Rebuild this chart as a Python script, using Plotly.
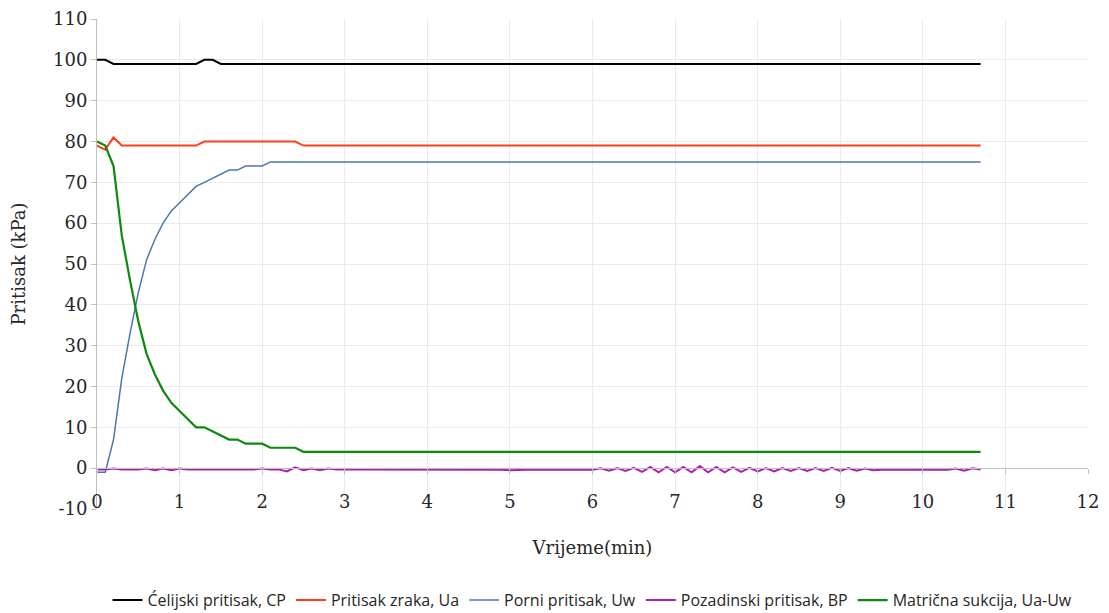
import plotly.graph_objects as go

time_min = [0.0, 0.1, 0.2, 0.3, 0.4, 0.5, 0.6, 0.7, 0.8, 0.9,
            1.0, 1.1, 1.2, 1.3, 1.4, 1.5, 1.6, 1.7, 1.8, 1.9,
            2.0, 2.1, 2.2, 2.3, 2.4, 2.5, 2.6, 2.7, 2.8, 2.9,
            3.0, 3.1, 3.2, 3.3, 3.4, 3.5, 3.6, 3.7, 3.8, 3.9,
            4.0, 4.1, 4.2, 4.3, 4.4, 4.5, 4.6, 4.7, 4.8, 4.9,
            5.0, 5.1, 5.2, 5.3, 5.4, 5.5, 5.6, 5.7, 5.8, 5.9,
            6.0, 6.1, 6.2, 6.3, 6.4, 6.5, 6.6, 6.7, 6.8, 6.9,
            7.0, 7.1, 7.2, 7.3, 7.4, 7.5, 7.6, 7.7, 7.8, 7.9,
            8.0, 8.1, 8.2, 8.3, 8.4, 8.5, 8.6, 8.7, 8.8, 8.9,
            9.0, 9.1, 9.2, 9.3, 9.4, 9.5, 9.6, 9.7, 9.8, 9.9,
            10.0, 10.1, 10.2, 10.3, 10.4, 10.5, 10.6, 10.7]

celijski_cp = [100, 100, 99, 99, 99, 99, 99, 99, 99, 99,
               99, 99, 99, 100, 100, 99, 99, 99, 99, 99,
               99, 99, 99, 99, 99, 99, 99, 99, 99, 99,
               99, 99, 99, 99, 99, 99, 99, 99, 99, 99,
               99, 99, 99, 99, 99, 99, 99, 99, 99, 99,
               99, 99, 99, 99, 99, 99, 99, 99, 99, 99,
               99, 99, 99, 99, 99, 99, 99, 99, 99, 99,
               99, 99, 99, 99, 99, 99, 99, 99, 99, 99,
               99, 99, 99, 99, 99, 99, 99, 99, 99, 99,
               99, 99, 99, 99, 99, 99, 99, 99, 99, 99,
               99, 99, 99, 99, 99, 99, 99, 99]

zraka_ua = [79, 78, 81, 79, 79, 79, 79, 79, 79, 79,
            79, 79, 79, 80, 80, 80, 80, 80, 80, 80,
            80, 80, 80, 80, 80, 79, 79, 79, 79, 79,
            79, 79, 79, 79, 79, 79, 79, 79, 79, 79,
            79, 79, 79, 79, 79, 79, 79, 79, 79, 79,
            79, 79, 79, 79, 79, 79, 79, 79, 79, 79,
            79, 79, 79, 79, 79, 79, 79, 79, 79, 79,
            79, 79, 79, 79, 79, 79, 79, 79, 79, 79,
            79, 79, 79, 79, 79, 79, 79, 79, 79, 79,
            79, 79, 79, 79, 79, 79, 79, 79, 79, 79,
            79, 79, 79, 79, 79, 79, 79, 79]

porni_uw = [-1, -1, 7, 22, 33, 43, 51, 56, 60, 63,
            65, 67, 69, 70, 71, 72, 73, 73, 74, 74,
            74, 75, 75, 75, 75, 75, 75, 75, 75, 75,
            75, 75, 75, 75, 75, 75, 75, 75, 75, 75,
            75, 75, 75, 75, 75, 75, 75, 75, 75, 75,
            75, 75, 75, 75, 75, 75, 75, 75, 75, 75,
            75, 75, 75, 75, 75, 75, 75, 75, 75, 75,
            75, 75, 75, 75, 75, 75, 75, 75, 75, 75,
            75, 75, 75, 75, 75, 75, 75, 75, 75, 75,
            75, 75, 75, 75, 75, 75, 75, 75, 75, 75,
            75, 75, 75, 75, 75, 75, 75, 75]

pozadinski_bp = [-0.3, -0.3, -0.1, -0.3, -0.3, -0.3, -0.1, -0.5, -0.1, -0.5,
                 -0.1, -0.3, -0.3, -0.3, -0.3, -0.3, -0.3, -0.3, -0.3, -0.3,
                 -0.1, -0.3, -0.3, -0.8, 0.2, -0.5, -0.1, -0.5, -0.1, -0.3,
                 -0.3, -0.3, -0.3, -0.3, -0.3, -0.3, -0.3, -0.3, -0.3, -0.3,
                 -0.3, -0.3, -0.3, -0.3, -0.3, -0.3, -0.3, -0.3, -0.3, -0.4,
                 -0.5, -0.4, -0.4, -0.4, -0.4, -0.4, -0.4, -0.4, -0.4, -0.4,
                 -0.4, 0.0, -0.6, 0.0, -0.7, 0.1, -0.9, 0.3, -1.0, 0.3,
                 -1.0, 0.3, -1.0, 0.5, -1.0, 0.3, -1.0, 0.2, -0.9, 0.1,
                 -0.8, 0.0, -0.8, 0.0, -0.7, 0.0, -0.7, 0.0, -0.7, 0.1,
                 -0.7, 0.0, -0.6, -0.1, -0.5, -0.4, -0.4, -0.4, -0.4, -0.4,
                 -0.4, -0.4, -0.4, -0.4, -0.1, -0.6, 0.0, -0.3]

matricna_ua_uw = [80, 79, 74, 57, 46, 36, 28, 23, 19, 16,
                  14, 12, 10, 10, 9, 8, 7, 7, 6, 6,
                  6, 5, 5, 5, 5, 4, 4, 4, 4, 4,
                  4, 4, 4, 4, 4, 4, 4, 4, 4, 4,
                  4, 4, 4, 4, 4, 4, 4, 4, 4, 4,
                  4, 4, 4, 4, 4, 4, 4, 4, 4, 4,
                  4, 4, 4, 4, 4, 4, 4, 4, 4, 4,
                  4, 4, 4, 4, 4, 4, 4, 4, 4, 4,
                  4, 4, 4, 4, 4, 4, 4, 4, 4, 4,
                  4, 4, 4, 4, 4, 4, 4, 4, 4, 4,
                  4, 4, 4, 4, 4, 4, 4, 4]

series_names = ["Ćelijski pritisak, CP", "Pritisak zraka, Ua", "Porni pritisak, Uw",
                "Pozadinski pritisak, BP", "Matrična sukcija, Ua-Uw"]
series_values = [celijski_cp, zraka_ua, porni_uw, pozadinski_bp, matricna_ua_uw]
series_colors = ["#000000", "#FF3F1A", "#4C76B0", "#B01DB0", "#0B8A0B"]
series_widths = [2, 2, 1.5, 2, 2.2]

x_ticks = [0, 1, 2, 3, 4, 5, 6, 7, 8, 9, 10, 11, 12]
x_tick_labels = ["0", "1", "2", "3", "4", "5", "6", "7", "8", "9", "10", "11", "12"]
y_ticks = [-10, 0, 10, 20, 30, 40, 50, 60, 70, 80, 90, 100, 110]
y_tick_labels = ["-10", "0", "10", "20", "30", "40", "50", "60", "70", "80", "90", "100", "110"]

fig = go.Figure()
for name, vals, col, w in zip(series_names, series_values, series_colors, series_widths):
    fig.add_trace(go.Scatter(x=time_min, y=vals, mode="lines", name=name,
                             line=dict(color=col, width=w)))

tick_font = dict(family="DejaVu Serif", size=18, color="#262626")
axis_gray = "#BFBFBF"
grid_gray = "#EBEBEB"

# page body has an 8px default margin; figure offset accounted for in margins
fig.update_layout(
    width=1101, height=605,
    margin=dict(l=89, r=21, t=11, b=104, autoexpand=False),
    plot_bgcolor="white", paper_bgcolor="white",
    showlegend=True,
    legend=dict(orientation="h", x=0.5, xanchor="center", y=-0.186, yanchor="middle",
                font=dict(family="Open Sans, sans-serif", size=16, color="#262626"),
                traceorder="normal", itemwidth=30, tracegroupgap=0),
    xaxis=dict(range=[0, 12], tickvals=x_ticks, ticktext=x_tick_labels,
               showgrid=True, gridcolor=grid_gray,
               showline=True, linecolor=axis_gray, linewidth=1,
               ticks="outside", ticklen=5, tickcolor=axis_gray,
               anchor="free", position=10 / 120, zeroline=False, automargin=False,
               tickfont=tick_font, ticklabelstandoff=12,
               title=dict(text="Vrijeme(min)", font=tick_font, standoff=30)),
    yaxis=dict(range=[-10, 110], tickvals=y_ticks, ticktext=y_tick_labels,
               showgrid=True, gridcolor=grid_gray,
               showline=True, linecolor=axis_gray, linewidth=1,
               ticks="outside", ticklen=5, tickcolor=axis_gray, zeroline=False,
               automargin=False, tickfont=tick_font,
               title=dict(text="Pritisak (kPa)", font=tick_font, standoff=22)),
)

fig.write_html("out.html")
